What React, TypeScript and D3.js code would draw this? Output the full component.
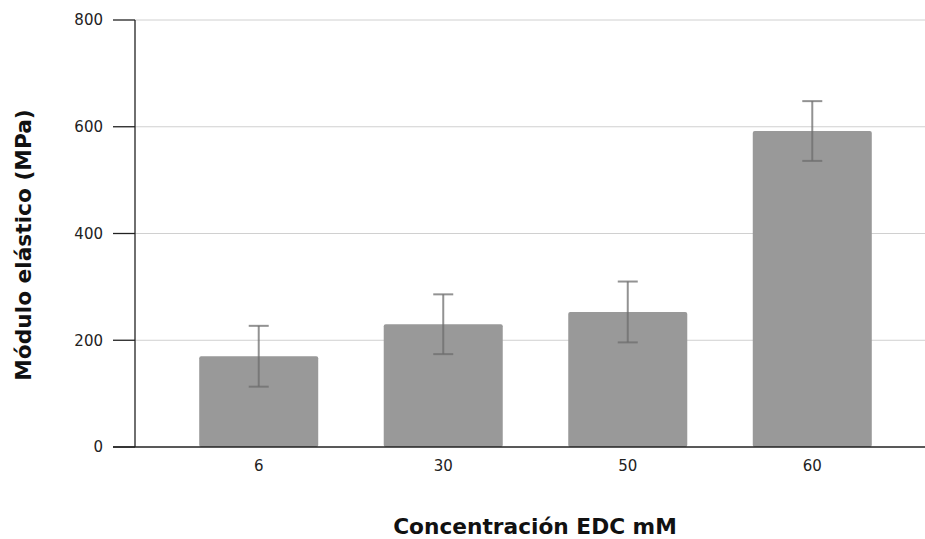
import React from 'react';
import * as d3 from 'd3';

// datos
const categories = ['6', '30', '50', '60'];
const means = [170, 230, 253, 592];
const errors = [57, 56, 57, 56];
const yTicks = [0, 200, 400, 600, 800];

const W = 925;
const H = 539;
const left = 135;
const top = 20;
const bottom = 447;

export default function App() {
  const x = d3.scaleBand<string>()
    .domain(categories)
    .range([left, 936])
    .paddingInner(0.355)
    .paddingOuter(0.348);
  const y = d3.scaleLinear().domain([0, 800]).range([bottom, top]);
  const font = '"DejaVu Sans", Verdana, sans-serif';

  return (
    <svg width={W} height={H} style={{ position: 'absolute', left: 0, top: 0, background: '#fff' }}>
      {/* grid */}
      {yTicks.map(t => (
        <g key={t}>
          {t > 0 && <line x1={left} x2={W} y1={y(t)} y2={y(t)} stroke="#d0d0d0" strokeWidth={1} />}
          <line x1={113} x2={left} y1={y(t)} y2={y(t)} stroke="#222" strokeWidth={1.3} />
          <text x={103} y={y(t)} dy="0.36em" textAnchor="end" fontSize={15} fontFamily={font} fill="#222">{t}</text>
        </g>
      ))}
      {/* barras */}
      {categories.map((c, i) => (
        <rect key={c} x={x(c)} y={y(means[i])} width={x.bandwidth()} height={bottom - y(means[i])}
          fill="#999999" rx={2} ry={2} />
      ))}
      {/* barras de error */}
      {categories.map((c, i) => {
        const cx = (x(c) ?? 0) + x.bandwidth() / 2;
        const hi = y(means[i] + errors[i]);
        const lo = y(means[i] - errors[i]);
        return (
          <g key={c} stroke="#6e6e6e" strokeOpacity={0.75} strokeWidth={2}>
            <line x1={cx} x2={cx} y1={hi} y2={lo} />
            <line x1={cx - 10} x2={cx + 10} y1={hi} y2={hi} />
            <line x1={cx - 10} x2={cx + 10} y1={lo} y2={lo} />
          </g>
        );
      })}
      {/* ejes */}
      <line x1={left} x2={left} y1={top} y2={bottom} stroke="#222" strokeWidth={1.3} />
      <line x1={113} x2={W} y1={bottom} y2={bottom} stroke="#222" strokeWidth={1.3} />
      {categories.map(c => (
        <text key={c} x={(x(c) ?? 0) + x.bandwidth() / 2} y={466} dy="0.36em" textAnchor="middle"
          fontSize={15} fontFamily={font} fill="#222">{c}</text>
      ))}
      <text x={535} y={534} textAnchor="middle" fontSize={21.7} fontWeight="bold" fontFamily={font} fill="#111">
        Concentración EDC mM
      </text>
      <text transform="translate(31,245) rotate(-90)" textAnchor="middle" fontSize={21.7} fontWeight="bold"
        fontFamily={font} fill="#111">
        Módulo elástico (MPa)
      </text>
    </svg>
  );
}
